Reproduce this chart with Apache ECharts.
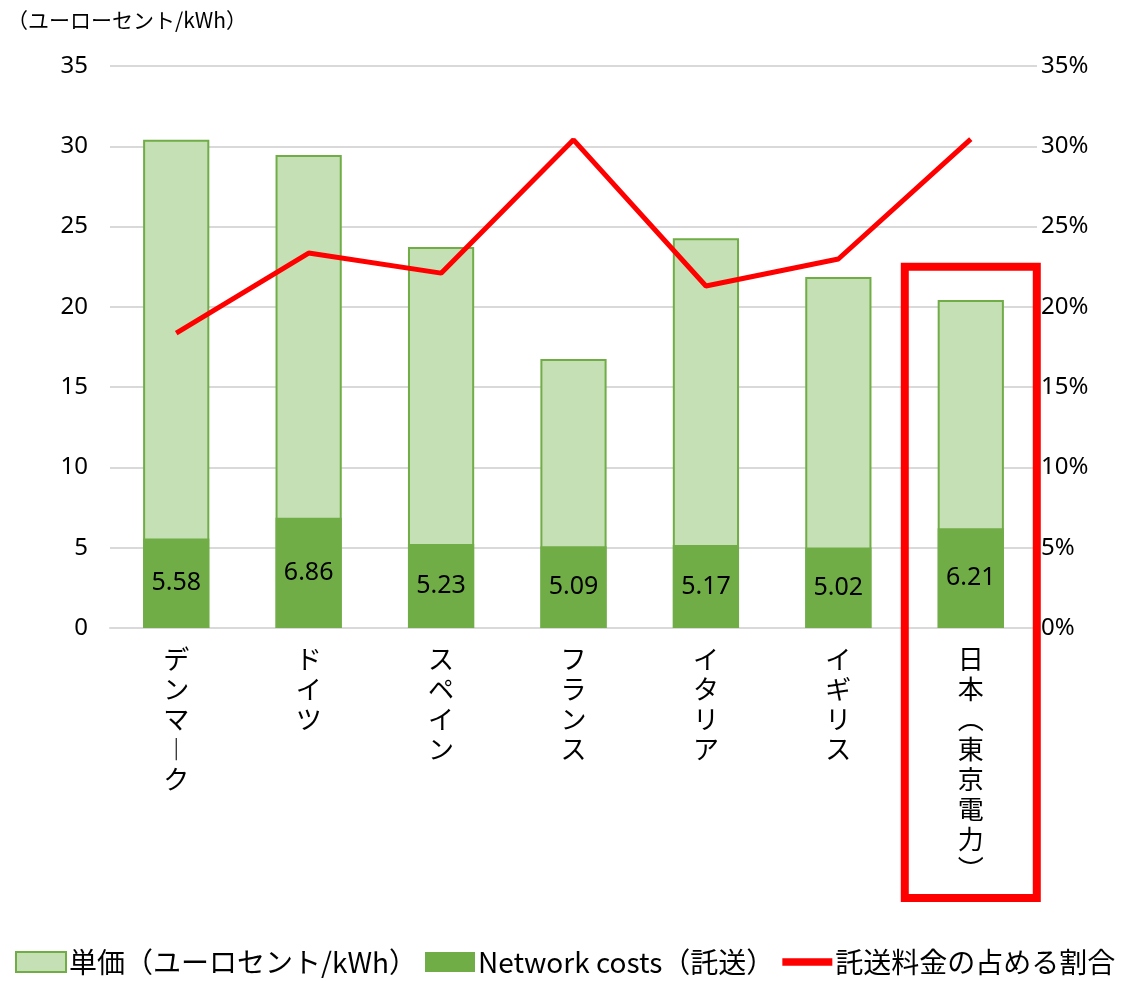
<!DOCTYPE html>
<html>
<head>
<meta charset="utf-8">
<script src="https://cdn.jsdelivr.net/npm/echarts@6/dist/echarts.min.js"></script>
<style>
html, body { margin: 0; padding: 0; background: #fff; }
#main { width: 1142px; height: 981px; }
</style>
</head>
<body>
<div id="main"></div>
<script>
// データ
var categories = ['デンマーク', 'ドイツ', 'スペイン', 'フランス', 'イタリア', 'イギリス', '日本（東京電力）'];
var unitPrice = [30.4, 29.45, 23.72, 16.75, 24.28, 21.86, 20.42];
var networkCosts = [5.58, 6.86, 5.23, 5.09, 5.17, 5.02, 6.21];
var shareRatio = [0.1837, 0.2335, 0.221, 0.304, 0.213, 0.2298, 0.3045];
var seriesNames = ['単価（ユーロセント/kWh）', 'Network costs（託送）', '託送料金の占める割合'];

var jpFont = '"Noto Sans CJK JP", "Noto Sans", sans-serif';
var numFont = '"Noto Sans", "Noto Sans CJK JP", sans-serif';

// 縦書き用の文字置き換え
var vertMap = { 'ー': '︱', '（': '︵', '）': '︶' };
function vertical(s) {
    return s.split('').map(function (c) { return vertMap[c] || c; }).join('\n');
}

var myChart = echarts.init(document.getElementById('main'));

var option = {
    backgroundColor: '#fff',
    animation: false,
    title: {
        text: '（ユーローセント/kWh）',
        left: 2,
        top: 5,
        textStyle: { fontFamily: jpFont, fontSize: 21, fontWeight: 'normal', color: '#000' }
    },
    legend: {
        bottom: 0,
        left: 10,
        itemWidth: 50,
        itemHeight: 20,
        itemGap: 8,
        textStyle: { fontFamily: jpFont, fontSize: 28, color: '#000', padding: [0, 0, 0, -2] },
        data: [
            { name: seriesNames[0], icon: 'rect' },
            { name: seriesNames[1], icon: 'rect' },
            { name: seriesNames[2], icon: 'path://M0,0H40V6H0Z', itemStyle: { color: '#FF0000', borderWidth: 0 } }
        ]
    },
    grid: { left: 110, right: 105, top: 66, bottom: 353 },
    xAxis: {
        type: 'category',
        data: categories,
        axisTick: { show: false },
        axisLine: { lineStyle: { color: '#D9D9D9', width: 2 } },
        axisLabel: {
            interval: 0,
            margin: 16,
            fontFamily: jpFont,
            fontSize: 26,
            lineHeight: 30,
            color: '#000',
            formatter: function (v) { return vertical(v); }
        }
    },
    yAxis: [
        {
            type: 'value',
            min: 0,
            max: 35,
            interval: 5,
            axisLine: { show: false },
            axisTick: { show: false },
            splitLine: { lineStyle: { color: '#D9D9D9', width: 2 } },
            axisLabel: { margin: 22, fontFamily: numFont, fontSize: 24, color: '#000' }
        },
        {
            type: 'value',
            min: 0,
            max: 0.35,
            interval: 0.05,
            axisLine: { show: false },
            axisTick: { show: false },
            splitLine: { show: false },
            axisLabel: {
                margin: 4,
                fontFamily: numFont,
                fontSize: 24,
                color: '#000',
                formatter: function (v) { return Math.round(v * 100) + '%'; }
            }
        }
    ],
    series: [
        {
            name: seriesNames[0],
            type: 'bar',
            data: unitPrice,
            barWidth: '50%',
            barGap: '-100%',
            itemStyle: { color: '#C5E0B4', borderColor: '#70AD47', borderWidth: 2 }
        },
        {
            name: seriesNames[1],
            type: 'bar',
            data: networkCosts,
            barWidth: '50%',
            itemStyle: { color: '#70AD47' },
            label: {
                show: true,
                position: 'inside',
                fontFamily: numFont,
                fontSize: 25,
                color: '#000'
            }
        },
        {
            name: seriesNames[2],
            type: 'line',
            yAxisIndex: 1,
            data: shareRatio,
            symbol: 'none',
            lineStyle: { color: '#FF0000', width: 5 },
            itemStyle: { color: '#FF0000' },
            z: 5
        }
    ]
};

myChart.setOption(option);

// 日本（東京電力）を囲む赤枠
var idx = categories.length - 1;
var cx = myChart.convertToPixel({ xAxisIndex: 0 }, categories[idx]);
var topY = myChart.convertToPixel({ yAxisIndex: 0 }, 22.5);
var half = 66;
myChart.setOption({
    graphic: [{
        type: 'rect',
        shape: { x: cx - half, y: topY, width: half * 2, height: 898 - topY },
        style: { fill: 'none', stroke: '#FF0000', lineWidth: 8 },
        z: 10
    }]
});

window.addEventListener('resize', function () {
    myChart.resize();
});
</script>
</body>
</html>
